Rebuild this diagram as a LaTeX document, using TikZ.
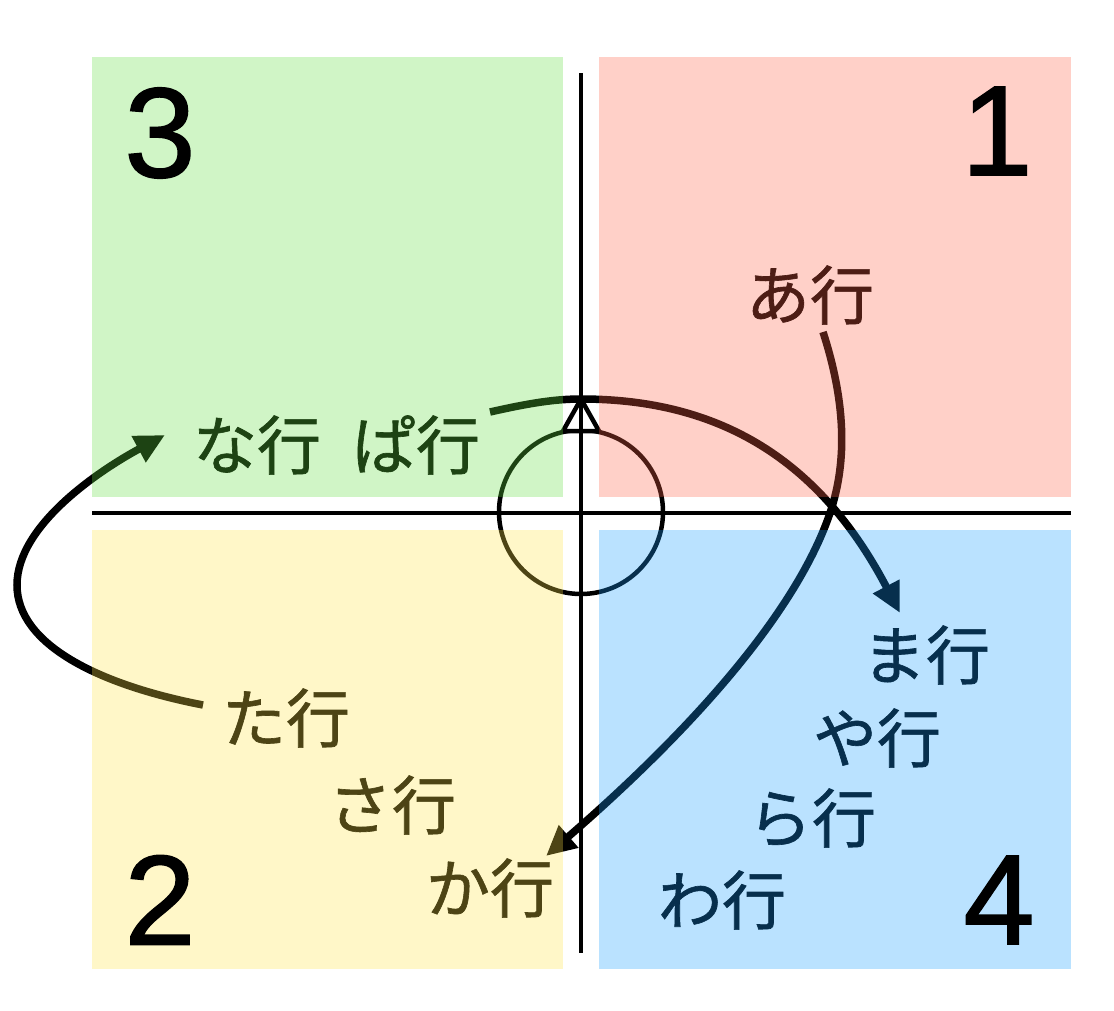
\documentclass[tikz,border=0pt]{standalone}
\usepackage{fontspec}
\newfontfamily\jpfont[FakeBold=1]{Noto Sans CJK JP}
\newfontfamily\numfont[FakeBold=1.2]{Liberation Sans}
\usetikzlibrary{arrows.meta}
\definecolor{vertq}{RGB}{98,222,65}
\definecolor{rougeq}{RGB}{255,98,72}
\definecolor{jauneq}{RGB}{255,228,72}
\definecolor{bleuq}{RGB}{25,158,255}
\tikzset{
	gyo/.style={font=\jpfont\fontsize{64}{64}\selectfont, inner sep=0pt},
	chiffre/.style={font=\numfont\fontsize{128}{128}\selectfont, inner sep=0pt},
	fleche/.style={line width=7.5pt, -{Triangle[length=30pt,width=28pt]}},
	voile/.style={fill opacity=0.3}
}
\begin{document}
\begin{tikzpicture}[x=1pt,y=-1pt]
	\useasboundingbox (0,0) rectangle (1114,1010);
%	Textes des lignes :
	\node[gyo] (a) at (810,295) {あ行};
	\node[gyo] (na) at (257,445) {な行};
	\node[gyo] (pa) at (416,445) {ぱ行};
	\node[gyo] (ma) at (926,655) {ま行};
	\node[gyo] (ya) at (877,738) {や行};
	\node[gyo] (ra) at (812,818) {ら行};
	\node[gyo] (wa) at (722,900) {わ行};
	\node[gyo] (ta) at (286,718) {た行};
	\node[gyo] (sa) at (392,805) {さ行};
	\node[gyo] (ka) at (490,888) {か行};
%	Points de passage des courbes :
	\coordinate (pa-d) at (490,412);
	\coordinate (sommet) at (581,399);
	\coordinate (ma-f) at (900,613);
	\coordinate (a-d) at (823,332);
	\coordinate (croix) at (830,513);
	\coordinate (ka-f) at (546,856);
	\coordinate (ta-d) at (203,705);
	\coordinate (gauche) at (17,585);
	\coordinate (na-f) at (165,435);
%	Tracé du cercle et du triangle :
	\draw[line width=4.5pt] (581,512) circle (82pt);
	\draw[line width=4.5pt,fill=white] (sommet) -- (563,431) -- (599,431) -- cycle;
%	Tracé des courbes :
	\draw[fleche] (pa-d) .. controls (530,403) and (555,399) .. (sommet) .. controls (720,399) and (820,460) .. (ma-f);
	\draw[fleche] (a-d) .. controls (845,400) and (848,460) .. (croix) .. controls (794,619) and (680,740) .. (ka-f);
	\draw[fleche] (ta-d) .. controls (100,685) and (17,645) .. (gauche) .. controls (17,525) and (100,470) .. (na-f);
%	Tracé des quadrants :
	\fill[voile,vertq] (92,57) rectangle (563,497);
	\fill[voile,rougeq] (599,57) rectangle (1071,497);
	\fill[voile,jauneq] (92,530) rectangle (563,969);
	\fill[voile,bleuq] (599,530) rectangle (1071,969);
%	Tracé des axes :
	\draw[line width=4pt] (92,513) -- (1071,513);
	\draw[line width=4pt] (581,73) -- (581,953);
%	Numéros :
	\node[chiffre] (n3) at (160,133) {3};
	\node[chiffre] (n1) at (997,131) {1};
	\node[chiffre] (n2) at (160,900) {2};
	\node[chiffre] (n4) at (999,900) {4};
\end{tikzpicture}
\end{document}
